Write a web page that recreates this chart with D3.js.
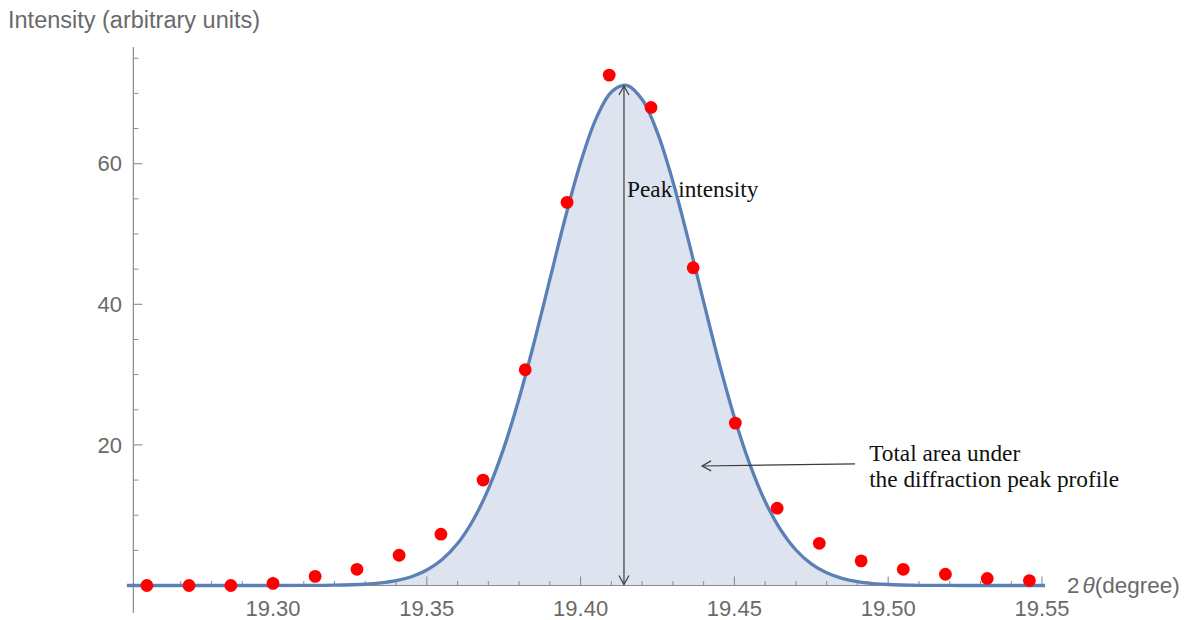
<!DOCTYPE html>
<html><head><meta charset="utf-8">
<script src="https://cdn.jsdelivr.net/npm/d3@7"></script>
<style>html,body{margin:0;padding:0;background:#fff;}svg{display:block;}</style>
</head><body>
<svg id="chart" width="1188" height="620"></svg>
<script>
// ---- data ----
const pointX = [19.2590,19.2727,19.2863,19.3000,19.3137,19.3273,19.3410,19.3546,19.3683,19.3820,19.3956,
                19.4093,19.4229,19.4366,19.4503,19.4639,19.4776,19.4912,19.5049,19.5186,19.5322,19.5459];
const pointY = [0,0,0,0.3,1.3,2.3,4.3,7.3,15.0,30.7,54.5,72.6,68.0,45.2,23.1,11.0,6.0,3.5,2.3,1.6,1.0,0.7];

const curveX = [19.2525,19.27,19.29,19.31,19.32,19.33,19.335,19.34,19.345,19.35,19.355,19.36,19.365,19.37,19.375,
                19.38,19.385,19.39,19.395,19.40,19.405,19.41,19.415,19.42,19.425,19.43,19.435,19.44,19.445,19.45,
                19.455,19.46,19.465,19.47,19.475,19.48,19.485,19.49,19.495,19.50,19.51,19.52,19.53,19.551];
const curveY = [0,0,0,0.007,0.04,0.18,0.36,0.68,1.25,2.20,3.70,5.97,9.25,13.72,19.51,
                26.60,34.76,43.54,52.28,60.17,66.38,70.20,71.15,69.13,64.39,57.48,49.19,40.35,31.72,23.91,
                17.27,11.96,7.94,5.05,3.08,1.80,1.01,0.54,0.28,0.14,0.03,0.005,0.001,0];

const xMajorTicks = [19.30,19.35,19.40,19.45,19.50,19.55];
const xTickLabels = ["19.30","19.35","19.40","19.45","19.50","19.55"];
const yMajorTicks = [20,40,60];
const yTickLabels = ["20","40","60"];
const yMinorTicks = [5,10,15,25,30,35,45,50,55,65,70,75];
const xMinorTicks = [19.26,19.27,19.28,19.29,19.31,19.32,19.33,19.34,19.36,19.37,19.38,19.39,
                     19.41,19.42,19.43,19.44,19.46,19.47,19.48,19.49,19.51,19.52,19.53,19.54];

const peakX = 19.4141, peakY = 71.2;

// ---- drawing ----
const svg = d3.select("#chart");
const x = d3.scaleLinear().domain([19.30, 19.55]).range([273, 1042]);
const y = d3.scaleLinear().domain([0, 60]).range([585.5, 163.7]);

const axisColor = "#8c8c8c", labelColor = "#6a6a6a";
const sans = "'Liberation Sans', Arial, sans-serif";
const serif = "'Liberation Serif', 'Times New Roman', serif";

const curveData = curveX.map((d,i)=>[d, curveY[i]]);

// filled area
svg.append("path")
  .datum(curveData)
  .attr("d", d3.area().x(d=>x(d[0])).y0(y(0)).y1(d=>y(d[1])).curve(d3.curveCatmullRom))
  .attr("fill", "#dde3ef");

// axes
const yAxisX = x(19.2546);
svg.append("line").attr("x1", yAxisX).attr("x2", yAxisX).attr("y1", 47).attr("y2", 613)
  .attr("stroke", axisColor).attr("stroke-width", 1.2);
svg.append("line").attr("x1", 127).attr("x2", 1045).attr("y1", y(0)).attr("y2", y(0))
  .attr("stroke", axisColor).attr("stroke-width", 1.2);

// x ticks (pointing up)
svg.selectAll(".xmaj").data(xMajorTicks).enter().append("line")
  .attr("x1", d=>x(d)).attr("x2", d=>x(d)).attr("y1", y(0)).attr("y2", y(0)-9)
  .attr("stroke", axisColor).attr("stroke-width", 1.1);
svg.selectAll(".xmin").data(xMinorTicks).enter().append("line")
  .attr("x1", d=>x(d)).attr("x2", d=>x(d)).attr("y1", y(0)).attr("y2", y(0)-4.5)
  .attr("stroke", axisColor).attr("stroke-width", 1);
svg.selectAll(".xlab").data(xMajorTicks).enter().append("text")
  .attr("x", d=>x(d)).attr("y", 616)
  .attr("text-anchor", "middle").attr("font-family", sans).attr("font-size", 22)
  .attr("fill", labelColor).text((d,i)=>xTickLabels[i]);

// y ticks (pointing right)
svg.selectAll(".ymaj").data(yMajorTicks).enter().append("line")
  .attr("x1", yAxisX).attr("x2", yAxisX+9).attr("y1", d=>y(d)).attr("y2", d=>y(d))
  .attr("stroke", axisColor).attr("stroke-width", 1.1);
svg.selectAll(".ymin").data(yMinorTicks).enter().append("line")
  .attr("x1", yAxisX).attr("x2", yAxisX+5).attr("y1", d=>y(d)).attr("y2", d=>y(d))
  .attr("stroke", axisColor).attr("stroke-width", 1);
svg.selectAll(".ylab").data(yMajorTicks).enter().append("text")
  .attr("x", 122).attr("y", d=>y(d)).attr("dy", "0.35em")
  .attr("text-anchor", "end").attr("font-family", sans).attr("font-size", 22)
  .attr("fill", labelColor).text((d,i)=>yTickLabels[i]);

// axis titles
svg.append("text").attr("x", 8).attr("y", 28).attr("font-family", sans).attr("font-size", 23.5)
  .attr("fill", labelColor).text("Intensity (arbitrary units)");
const xt = svg.append("text").attr("x", 1067).attr("y", 593).attr("font-family", sans).attr("font-size", 22.5)
  .attr("fill", labelColor);
xt.append("tspan").text("2");
xt.append("tspan").attr("font-style", "italic").attr("dx", 3).text("θ");
xt.append("tspan").text("(degree)");

// fitted curve
svg.append("path")
  .datum(curveData)
  .attr("d", d3.line().x(d=>x(d[0])).y(d=>y(d[1])).curve(d3.curveCatmullRom))
  .attr("fill", "none").attr("stroke", "#5b80b6").attr("stroke-width", 3.3);

// arrows
const arrowColor = "#3a3a3a";
function arrowHead(px, py, ang) { // ang: direction the arrow points, radians
  const L = 9, W = 5;
  const bx = px - L*Math.cos(ang), by = py - L*Math.sin(ang);
  const nx = -Math.sin(ang), ny = Math.cos(ang);
  svg.append("path")
    .attr("d", `M${bx+nx*W},${by+ny*W}L${px},${py}L${bx-nx*W},${by-ny*W}`)
    .attr("fill", "none").attr("stroke", arrowColor).attr("stroke-width", 1.2);
}
const ax = x(peakX), aTop = y(peakY)+1, aBot = y(0)-1;
svg.append("line").attr("x1", ax).attr("x2", ax).attr("y1", aTop).attr("y2", aBot)
  .attr("stroke", arrowColor).attr("stroke-width", 1.2);
arrowHead(ax, aTop, -Math.PI/2);
arrowHead(ax, aBot, Math.PI/2);

const hx1 = x(19.4892), hy1 = y(17.3), hx2 = x(19.4395), hy2 = y(17.0);
svg.append("line").attr("x1", hx1).attr("x2", hx2).attr("y1", hy1).attr("y2", hy2)
  .attr("stroke", arrowColor).attr("stroke-width", 1.2);
arrowHead(hx2, hy2, Math.atan2(hy2-hy1, hx2-hx1));

// data points
svg.selectAll(".pt").data(pointX).enter().append("circle")
  .attr("cx", d=>x(d)).attr("cy", (d,i)=>y(pointY[i])).attr("r", 6.4)
  .attr("fill", "#ff0000");

// annotations
svg.append("text").attr("x", x(19.4151)).attr("y", 197).attr("font-family", serif).attr("font-size", 23.3)
  .attr("fill", "#111").text("Peak intensity");
svg.append("text").attr("x", x(19.4938)).attr("y", 461).attr("font-family", serif).attr("font-size", 23.3)
  .attr("fill", "#111").text("Total area under");
svg.append("text").attr("x", x(19.4938)).attr("y", 487).attr("font-family", serif).attr("font-size", 23.3)
  .attr("fill", "#111").text("the diffraction peak profile");
</script>
</body></html>
